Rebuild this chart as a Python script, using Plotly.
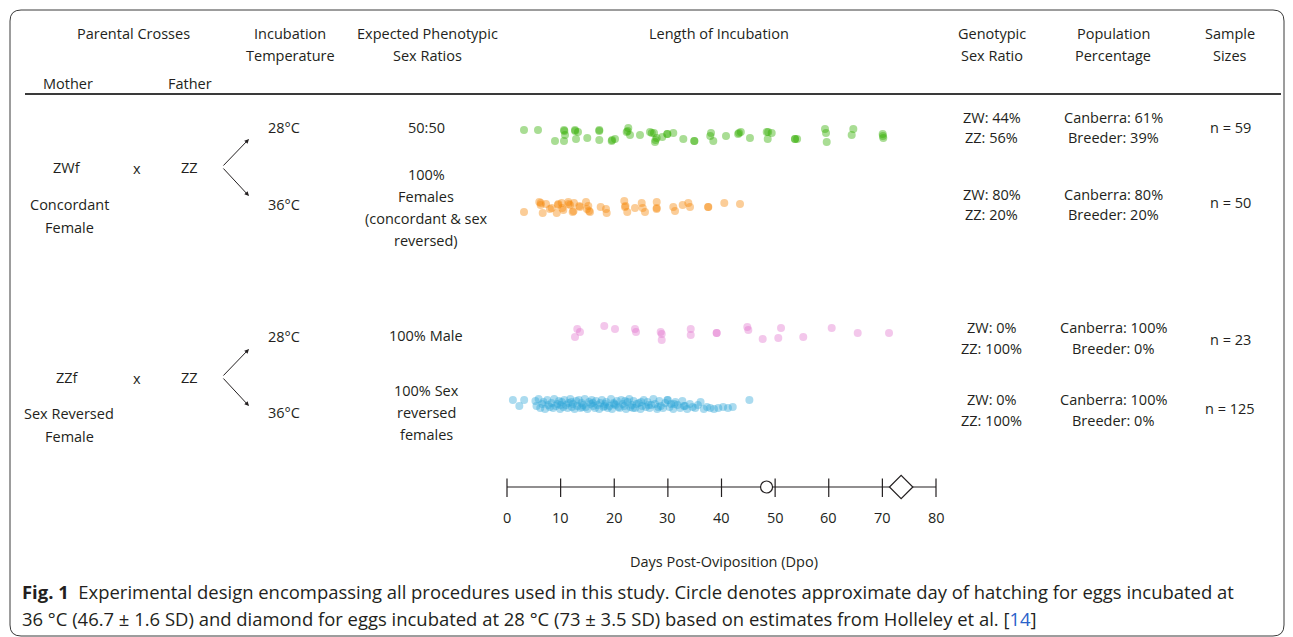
import plotly.graph_objects as go

W, H = 1293, 637

# ---------------- data ----------------
# Length of incubation (days post-oviposition) for each group, with the vertical jitter (px) of each dot
green_days = [3.17, 5.78, 8.95, 10.63, 10.63, 10.82, 12.68, 13.24, 12.87, 14.97,
              17.21, 17.21, 19.52, 19.6, 20.14, 22.32, 22.62, 22.94, 24.80, 26.67,
              27.41, 27.60, 27.92, 28.96, 29.89, 31.01, 32.88, 34.93, 34.93, 38.04,
              37.9, 38.47, 40.84, 43.26, 43.1, 43.6, 45.31, 48.43, 48.62, 49.36,
              48.7, 53.71, 53.7, 54.1, 59.30, 59.49, 59.62, 64.28, 64.58, 70.06,
              70.17, 70.1, 12.7, 17.2, 22.5, 27.0, 27.7, 10.7, 29.9]
green_jitter = [-5, -5, 6, -5, 6, 0, -5, -3, 4, 3,
                -5, 5, 6, 5, 4, -3, -7, 0, 0, -3,
                -2, 7, 3, 2, -1, -2, 4, 6, 6, -2,
                1, 6, 1, -2, -1, -3, 3, -3, 4, -2,
                -3, 4, 4, 4, -6, -2, 7, 0, -6, -1,
                3, 1, -4, -4, -4, -2, 5, -4, -1]

orange_days = [3.17, 6.02, 6.28, 6.66, 7.27, 8.34, 9.27, 9.57, 10.20, 10.50,
               11.43, 11.75, 12.25, 12.49, 13.61, 14.73, 15.16, 15.48, 17.47, 18.46,
               18.59, 21.87, 22.00, 22.43, 23.87, 25.12, 25.31, 25.73, 27.92, 27.92,
               27.9, 31.01, 31.33, 32.76, 33.81, 34.13, 37.54, 37.5, 40.52, 43.45,
               6.3, 8.0, 9.5, 10.3, 11.5, 12.4, 13.5, 14.9, 15.3, 22.1]
orange_jitter = [6, -4, -1, 7, -2, 2, 7, -2, -3, 4,
                 -4, -1, 6, -3, 1, -4, 0, 6, 1, 3,
                 7, -5, 1, 6, 2, -3, 2, 6, -4, 2,
                 3, 1, 5, -1, -3, 1, 1, 1, -3, -2,
                 -3, 3, -1, 2, -2, 5, 0, 3, 5, 0]

pink_days = [13.11, 13.61, 12.68, 18.14, 20.14, 23.87, 24.06, 28.66, 28.85, 28.85,
             34.26, 34.26, 39.10, 39.10, 44.81, 45.00, 47.68, 50.59, 51.10, 55.25,
             60.55, 65.40, 71.24]
pink_jitter = [-4, -1, 4, -7, -4, -4, -1, -1, 1, 7,
               -4, 2, 0, 0, -6, -3, 6, 5, -5, 4,
               -5, 0, 0]

blue_days = [1.1, 2.3, 3.2,
             5.3, 5.5, 5.9, 6.2, 6.6, 6.8, 7.1, 7.5, 7.7, 8.0,
             8.3, 8.6, 8.8, 9.1, 9.4, 9.7, 9.9, 10.2, 10.5, 10.7,
             11.0, 11.3, 11.5, 11.8, 12.1, 12.3, 12.6, 12.9, 13.1, 13.4,
             13.7, 13.9, 14.2, 14.5, 14.7, 15.0, 15.3, 15.6, 15.8, 16.1,
             16.4, 16.6, 16.9, 17.2, 17.4, 17.7, 18.0, 18.3, 18.5, 18.8,
             19.1, 19.4, 19.6, 19.9, 20.2, 20.5, 20.8, 21.0, 21.3, 21.6,
             21.9, 22.2, 22.5, 22.8, 23.0, 23.3, 23.6, 23.9, 24.2, 24.6,
             24.9, 25.2, 25.5, 25.9, 26.2, 26.6, 26.9, 27.3, 27.6, 28.0,
             28.4, 28.7, 29.1, 29.5, 29.9, 30.3, 30.6, 31.0, 31.4, 31.8,
             32.3, 32.7, 33.2, 33.6, 34.1, 34.6, 35.1, 35.6, 36.1, 36.7,
             37.3, 37.9, 38.6, 39.4, 40.3, 41.2, 42.1, 45.2,
             10.0, 12.0, 14.0, 16.0, 18.2, 20.0, 22.0, 23.5, 25.0, 26.4, 28.2, 30.0, 31.2, 33.0]
blue_jitter = [-4, 2, -4,
               -3, 2, -5, 4, 0, -2, 5, -4, 1, 3,
               -1, 4, -5, 2, 0, -3, 5, -2, 3, -4,
               1, 4, -1, -5, 3, 0, 5, -3, 2, -4,
               4, -1, 1, -5, 3, 5, -2, 0, -4, 2,
               4, -3, 1, 5, -1, -4, 3, 0, -2, 4,
               2, -5, 5, -1, 1, -3, 3, 4, -4, 0,
               2, 5, -2, -5, 3, 1, -3, 4, 0, -1,
               5, 2, -4, 3, -2, 4, 1, -5, 0, 5,
               -3, 2, 4, -1, -4, 3, 0, 5, -2, 1,
               4, -3, 2, 5, 0, 3, 4, 1, -2, 5,
               3, 4, 5, 4, 3, 4, 3, -4,
               1, -2, 3, -1, 2, 0, -3, 4, -2, 1, 3, -4, 0, 2]

assert len(green_days) == len(green_jitter) == 59
assert len(orange_days) == len(orange_jitter) == 50
assert len(pink_days) == len(pink_jitter) == 23
assert len(blue_days) == len(blue_jitter) == 125

hatch_36C_day = 48.4   # circle
hatch_28C_day = 73.5   # diamond
axis_ticks = [0, 10, 20, 30, 40, 50, 60, 70, 80]

headers = ["Parental Crosses", "Incubation<br>Temperature", "Expected Phenotypic<br>Sex Ratios",
           "Length of Incubation", "Genotypic<br>Sex Ratio", "Population<br>Percentage", "Sample<br>Sizes"]
parent_labels = ["Mother", "Father"]
mothers = ["ZWf", "ZZf"]
mother_desc = ["Concordant<br>Female", "Sex Reversed<br>Female"]
father = "ZZ"
temps = ["28°C", "36°C", "28°C", "36°C"]
expected = ["50:50", "100%<br>Females<br>(concordant & sex<br>reversed)", "100% Male",
            "100% Sex<br>reversed<br>females"]
genotypic = ["ZW: 44%<br>ZZ: 56%", "ZW: 80%<br>ZZ: 20%", "ZW: 0%<br>ZZ: 100%", "ZW: 0%<br>ZZ: 100%"]
population = ["Canberra: 61%<br>Breeder: 39%", "Canberra: 80%<br>Breeder: 20%",
              "Canberra: 100%<br>Breeder: 0%", "Canberra: 100%<br>Breeder: 0%"]
sample_sizes = [59, 50, 23, 125]
axis_title = "Days Post-Oviposition (Dpo)"
caption_1 = ("<b>Fig. 1</b>\u00a0\u00a0Experimental design encompassing all procedures used in this study. "
             "Circle denotes approximate day of hatching for eggs incubated at")
caption_2 = ("36 °C (46.7 ± 1.6 SD) and diamond for eggs incubated at 28 °C (73 ± 3.5 SD) based on "
             "estimates from Holleley et al. [<span style='color:#2a62c9'>14</span>]")

# ---------------- layout helpers ----------------
X0_PX = 507.0
PX_PER_DAY = 5.3625
x_range = [-X0_PX / PX_PER_DAY, (W - X0_PX) / PX_PER_DAY]

FONT = "Open Sans"
TXT = "#231f20"
FS = 14.5

def px(x):
    return x / W

fig = go.Figure()

rows = [
    (green_days, green_jitter, 135, "rgba(50,175,0,0.42)"),
    (orange_days, orange_jitter, 206, "rgba(245,135,10,0.42)"),
    (pink_days, pink_jitter, 333, "rgba(225,115,205,0.40)"),
    (blue_days, blue_jitter, 404, "rgba(45,165,215,0.40)"),
]
for days, jit, yc, col in rows:
    fig.add_trace(go.Scatter(
        x=days, y=[yc + j for j in jit], mode="markers",
        marker=dict(size=8, color=col, line=dict(width=0)),
        hoverinfo="skip", showlegend=False))

annotations = []

def text(x, y, s, size=FS, anchor="center", xref="paper", yanchor="middle", color=TXT, family=FONT):
    annotations.append(dict(x=x, y=y, xref=xref, yref="y", text=s, showarrow=False,
                            xanchor=anchor, yanchor=yanchor,
                            font=dict(family=family, size=size, color=color)))

def multiline(xc, y_first, s, spacing):
    for i, line in enumerate(s.split("<br>")):
        text(px(xc), y_first + i * spacing, line)

# headers
multiline(133.5, 33.5, headers[0], 22)
multiline(290, 33.5, headers[1], 22)
multiline(427, 33.5, headers[2], 22)
multiline(719, 33.5, headers[3], 22)
multiline(991.5, 33.5, headers[4], 22)
multiline(1113, 33.5, headers[5], 22)
multiline(1230, 33.5, headers[6], 22)
text(px(68), 83, parent_labels[0])
text(px(190), 83, parent_labels[1])

# parental crosses blocks
for k, (yc, ydesc) in enumerate([(167, 204), (377, 413)]):
    text(px(67), yc, mothers[k])
    text(px(137), yc + 1, "x")
    text(px(189), yc, father)
    multiline(69, ydesc, mother_desc[k], 23)
    # arrows
    for dy in (-28, 29):
        annotations.append(dict(x=px(249), y=yc + dy, xref="paper", yref="y",
                                ax=-27, ay=-dy, axref="pixel", ayref="pixel",
                                showarrow=True, arrowhead=2, arrowsize=0.9, arrowwidth=1,
                                arrowcolor=TXT, text=""))

# temperatures
for t, y in zip(temps, [127, 204, 336, 412]):
    text(px(284), y, t)

# expected phenotypic
multiline(426, 127, expected[0], 22)
multiline(426, 174, expected[1], 22.3)
multiline(426, 335, expected[2], 22)
multiline(426, 390, expected[3], 22)

# genotypic / population / sample sizes
for g, p, n, y1, sp, yn in zip(genotypic, population, sample_sizes,
                                [117.5, 194, 327.5, 399], [20, 20, 21, 21],
                                [127.5, 202.5, 339.5, 408.5]):
    multiline(991.5, y1, g, sp)
    multiline(1113, y1, p, sp)
    text(px(1230), yn, f"n = {n}")

# bottom axis tick labels and title
for t in axis_ticks:
    text(t, 517, str(t), xref="x")
text(px(724), 561, axis_title)

# caption
text(px(20), 591, caption_1, size=18.45, anchor="left", family="Open Sans")
text(px(20), 618, caption_2, size=18.45, anchor="left", family="Open Sans")

shapes = []
# frame with rounded corners
x0, x1, y0, y1, r = 10, 1284, 10, 636, 11
path = (f"M {px(x0 + r)},{y0} L {px(x1 - r)},{y0} Q {px(x1)},{y0} {px(x1)},{y0 + r} "
        f"L {px(x1)},{y1 - r} Q {px(x1)},{y1} {px(x1 - r)},{y1} "
        f"L {px(x0 + r)},{y1} Q {px(x0)},{y1} {px(x0)},{y1 - r} "
        f"L {px(x0)},{y0 + r} Q {px(x0)},{y0} {px(x0 + r)},{y0} Z")
shapes.append(dict(type="path", path=path, xref="paper", yref="y", layer="below",
                   line=dict(color="#3a3a3a", width=1)))
# header separator
shapes.append(dict(type="line", x0=px(25), x1=px(1281), y0=94, y1=94, xref="paper", yref="y",
                   layer="below", line=dict(color="#3a3a3a", width=2)))
# axis line and ticks
shapes.append(dict(type="line", x0=axis_ticks[0], x1=axis_ticks[-1], y0=487, y1=487,
                   xref="x", yref="y", layer="below", line=dict(color=TXT, width=1.2)))
for t in axis_ticks:
    shapes.append(dict(type="line", x0=t, x1=t, y0=478.5, y1=497, xref="x", yref="y",
                       layer="below", line=dict(color=TXT, width=1.2)))

fig.add_trace(go.Scatter(x=[hatch_36C_day], y=[487], mode="markers",
                         marker=dict(symbol="circle", size=12, color="white",
                                     line=dict(color=TXT, width=1.2)),
                         hoverinfo="skip", showlegend=False))
fig.add_trace(go.Scatter(x=[hatch_28C_day], y=[487], mode="markers",
                         marker=dict(symbol="diamond", size=18, color="white",
                                     line=dict(color=TXT, width=1.2)),
                         hoverinfo="skip", showlegend=False))

fig.update_layout(
    width=W, height=H, margin=dict(l=0, r=0, t=0, b=0),
    paper_bgcolor="white", plot_bgcolor="white",
    xaxis=dict(range=x_range, visible=False, fixedrange=True),
    yaxis=dict(range=[H, 0], visible=False, fixedrange=True),
    annotations=annotations, shapes=shapes, showlegend=False,
)

fig.write_html("out.html")
